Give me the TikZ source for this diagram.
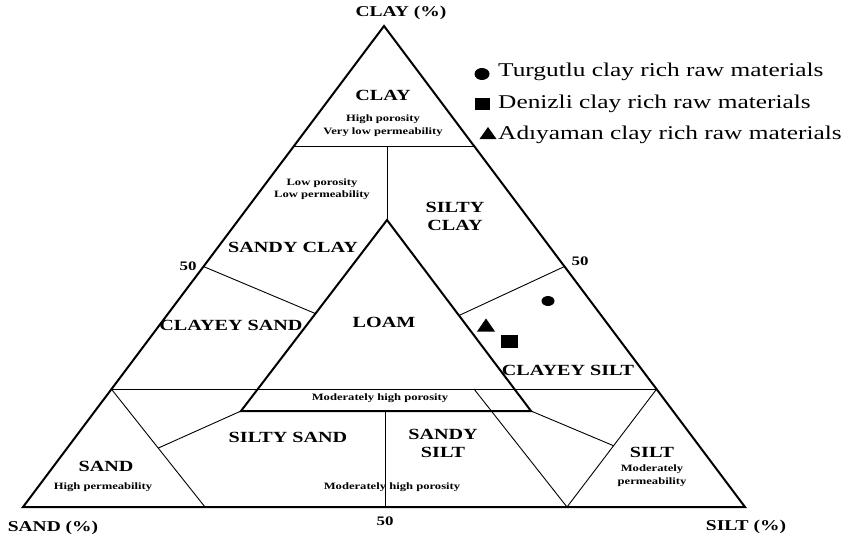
\documentclass[tikz,border=0pt]{standalone}
\usepackage{fontspec}
\setmainfont{Liberation Serif}[FakeStretch=1.3]
\usetikzlibrary{calc}

\begin{document}
\begin{tikzpicture}[
    x=1pt, y=-1pt,
    edge/.style={line width=2pt, line join=miter},
    thin/.style={line width=0.9pt},
    zone/.style={font=\fontsize{15.5}{18}\bfseries, align=center, inner sep=0pt},
    note/.style={font=\fontsize{9.7}{12.5}\bfseries, align=center, inner sep=0pt},
    axis/.style={font=\fontsize{15}{18}\bfseries, inner sep=0pt},
    tick/.style={font=\fontsize{13}{15}\bfseries, inner sep=0pt},
    key/.style={font=\fontsize{19.5}{22}\selectfont, anchor=base west, inner sep=0pt}
]
\useasboundingbox (0,0) rectangle (849,539);

% corners of the diagram
\coordinate (clay) at (384,26);
\coordinate (sand) at (23,507);
\coordinate (silt) at (745,507);

% points on the sides
\coordinate (tl) at ($(clay)!0.25!(sand)$);
\coordinate (tr) at ($(clay)!0.25!(silt)$);
\coordinate (hl) at ($(clay)!0.755!(sand)$);
\coordinate (hr) at ($(clay)!0.755!(silt)$);
\coordinate (fl) at ($(clay)!0.5!(sand)$);
\coordinate (fr) at ($(clay)!0.5!(silt)$);
\coordinate (sb) at (205,507);
\coordinate (st) at (567,507);
\coordinate (bm) at (385,507);

% loam triangle
\coordinate (la) at (387,220);
\coordinate (lb) at (241,411);
\coordinate (lc) at (531,411);
\coordinate (ml) at (474,389);

\draw[edge] (clay) -- (sand) -- (silt) -- cycle;
\draw[edge] (la) -- (lb) -- (lc) -- cycle;

\draw[thin] (tl) -- (tr);
\draw[thin] (la |- tl) -- (la);
\draw[thin] (fl) -- ($(la)!0.49!(lb)$);
\draw[thin] (fr) -- ($(la)!0.5!(lc)$);
\draw[thin] (hl) -- (hr);
\draw[thin] (hl) -- (sb);
\draw[thin] (lb) -- ($(hl)!0.5!(sb)$);
\draw[thin] (bm |- lb) -- (bm);
\draw[thin] (ml) -- (st);
\draw[thin] (hr) -- (st);
\draw[thin] (lc) -- ($(hr)!0.48!(st)$);

% axis labels
\node[axis] (clayax) at (401,13) {CLAY (\%)};
\node[axis] (sandax) at (53,528) {SAND (\%)};
\node[axis] (siltax) at (746,527) {SILT (\%)};
\node[tick] (t1) at (188,266) {50};
\node[tick] (t2) at (580,261) {50};
\node[tick] (t3) at (385,521) {50};

% zones
\node[zone] (zclay) at (383,95) {CLAY};
\node[note] (nclay) at (383,125.5) {High porosity\\Very low permeability};
\node[note] (nsclay) at (322,189) {Low porosity\\Low permeability};
\node[zone] (zsclay) at (293,247) {SANDY CLAY};
\node[zone] (zsiclay) at (455,216) {SILTY\\CLAY};
\node[zone] (zcsand) at (231,325) {CLAYEY SAND};
\node[zone] (zloam) at (384,322) {LOAM};
\node[zone] (zcsilt) at (568,370) {CLAYEY SILT};
\node[note] (nloam) at (380,398) {Moderately high porosity};
\node[zone] (zssand) at (288,437) {SILTY SAND};
\node[zone] (zssilt) at (443,443.5) {SANDY\\SILT};
\node[note] (nssilt) at (392,487) {Moderately high porosity};
\node[zone] (zsand) at (106,466) {SAND};
\node[note] (nsand) at (103,487) {High permeability};
\node[zone] (zsilt) at (652,452) {SILT};
\node[note] (nsilt) at (652,475.5) {Moderately\\permeability};

% samples
\coordinate (turgutlu) at (548,301);
\coordinate (denizli) at (509,341);
\coordinate (adiyaman) at (486,325);
\fill (turgutlu) ellipse [x radius=6.5pt, y radius=5pt];
\fill ($(denizli)+(-8.5,-6.5)$) rectangle ($(denizli)+(8.5,6.5)$);
\fill ($(adiyaman)+(-9,6.5)$) -- ++(18,0) -- ++(-9,-13) -- cycle;

% legend
\coordinate (k1) at (482,74);
\coordinate (k2) at (482,104);
\coordinate (k3) at (488,133);
\fill (k1) ellipse [x radius=7.5pt, y radius=6pt];
\fill ($(k2)+(-7.5,-6)$) rectangle ($(k2)+(7.5,6)$);
\fill ($(k3)+(-8.5,6)$) -- ++(17,0) -- ++(-8.5,-12) -- cycle;
\node[key] (key1) at (498,76.5) {Turgutlu clay rich raw materials};
\node[key] (key2) at (498,108.5) {Denizli clay rich raw materials};
\node[key] (key3) at (498,139.5) {Adıyaman clay rich raw materials};
\end{tikzpicture}
\end{document}
